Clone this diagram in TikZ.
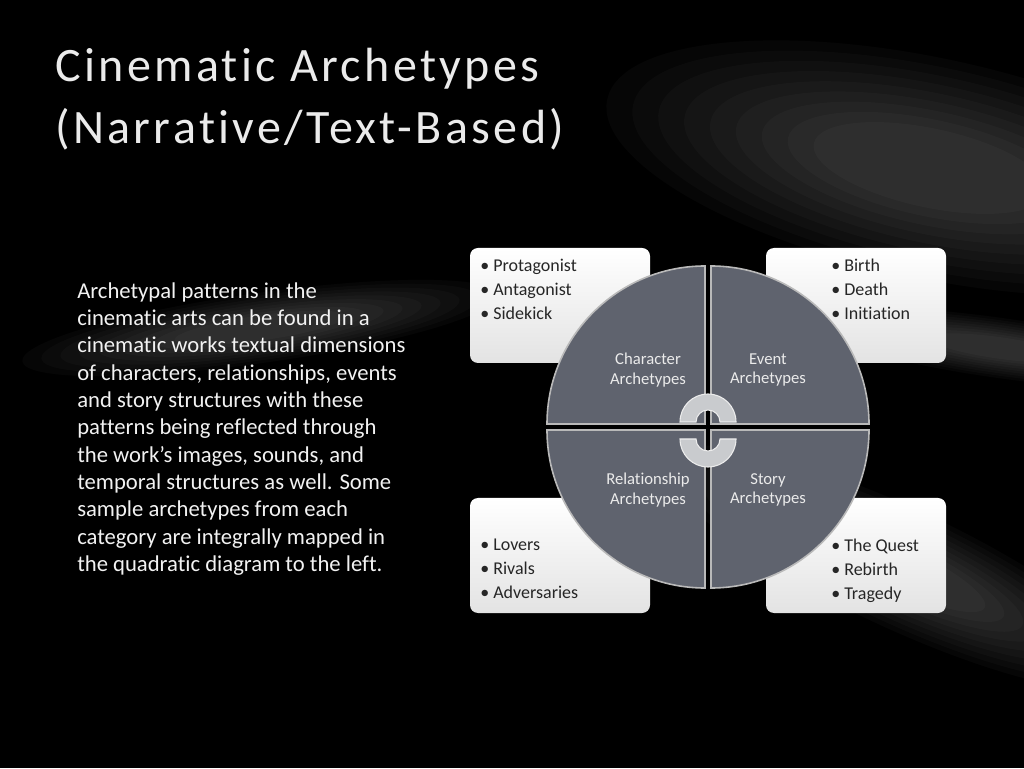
\documentclass[tikz,border=0pt]{standalone}
\usepackage{fontspec}
\setmainfont{Carlito}[RawFeature=-liga]
\newfontfamily\titlefont[LetterSpace=7,RawFeature=-liga]{Carlito}
\definecolor{quad}{HTML}{5F636E}
\definecolor{ring}{HTML}{C9CBCE}
\begin{document}
\begin{tikzpicture}[x=0.75pt,y=0.75pt,
  quadpiece/.style={fill=quad,draw=gray!55,line width=1.2pt},
  boxbg/.style={rounded corners=6pt,top color=white,bottom color=gray!22,draw=none},
  boxtxt/.style={anchor=north west,align=left,font=\fontsize{13.5}{18}\selectfont,text=black!85,inner sep=0pt},
  qtxt/.style={align=center,font=\fontsize{12.5}{14.5}\selectfont,text=white!92!black,inner sep=0pt},
  ringpiece/.style={fill=ring,draw=white!85!gray,line width=0.8pt},
  streak/.style={fill=white,opacity=0.025}]
\useasboundingbox (0,0) rectangle (1024,768);
\fill[black] (0,0) rectangle (1024,768);
% background streaks (soft, layered)
\foreach \s in {1.0,0.92,...,0.3}{
  \fill[streak,rotate around={-12:(930,600)}] (930,600) ellipse[x radius=330*\s,y radius=110*\s];
  \fill[streak,rotate around={-25:(900,200)}] (900,200) ellipse[x radius=260*\s,y radius=60*\s];
  \fill[streak,rotate around={-8:(1000,420)}] (1000,420) ellipse[x radius=200*\s,y radius=30*\s];
  \fill[streak,rotate around={8:(260,440)}] (260,440) ellipse[x radius=240*\s,y radius=35*\s];
}
% title
\node[anchor=west,text=white!92!black,align=left,font=\titlefont\fontsize{36}{46.5}\selectfont,inner sep=0pt] (title) at (55,669) {Cinematic Archetypes\\(Narrative/Text-Based)};
% body
\node[anchor=north west,align=left,text=white!95!black,font=\fontsize{17}{20.5}\selectfont,inner sep=0pt] (body) at (77,486) {Archetypal patterns in the\\cinematic arts can be found in a\\cinematic works textual dimensions\\of characters, relationships, events\\and story structures with these\\patterns being reflected through\\the work’s images, sounds, and\\temporal structures as well. Some\\sample archetypes from each\\category are integrally mapped in\\the quadratic diagram to the left.};
% boxes
\fill[boxbg] (470,405) rectangle (650,520);
\fill[boxbg] (766,405) rectangle (946,520);
\fill[boxbg] (470,155) rectangle (650,270);
\fill[boxbg] (766,155) rectangle (946,270);
\node[boxtxt] (b1) at (480,509) {• Protagonist\\• Antagonist\\• Sidekick};
\node[boxtxt] (b2) at (831,509) {• Birth\\• Death\\• Initiation};
\node[boxtxt] (b3) at (480,229) {• Lovers\\• Rivals\\• Adversaries};
\node[boxtxt] (b4) at (831,229) {• The Quest\\• Rebirth\\• Tragedy};
% quadrants
\filldraw[quadpiece] (705,344) -- ++(-158,0) arc[start angle=180,end angle=90,radius=158] -- cycle;
\filldraw[quadpiece] (711,344) -- ++(0,158) arc[start angle=90,end angle=0,radius=158] -- cycle;
\filldraw[quadpiece] (705,338) -- ++(0,-158) arc[start angle=270,end angle=180,radius=158] -- cycle;
\filldraw[quadpiece] (711,338) -- ++(158,0) arc[start angle=0,end angle=-90,radius=158] -- cycle;
\node[qtxt] (q1) at (648,398) {Character\\Archetypes};
\node[qtxt] (q2) at (768,398) {Event\\Archetypes};
\node[qtxt] (q3) at (648,278) {Relationship\\Archetypes};
\node[qtxt] (q4) at (768,278) {Story\\Archetypes};
% rings
\filldraw[ringpiece] (736,346) arc[start angle=0,end angle=180,radius=28] -- (696,346) arc[start angle=180,end angle=0,radius=12] -- cycle;
\filldraw[ringpiece] (680,329) arc[start angle=180,end angle=360,radius=28] -- (720,329) arc[start angle=0,end angle=-180,radius=12] -- cycle;
\end{tikzpicture}
\end{document}
